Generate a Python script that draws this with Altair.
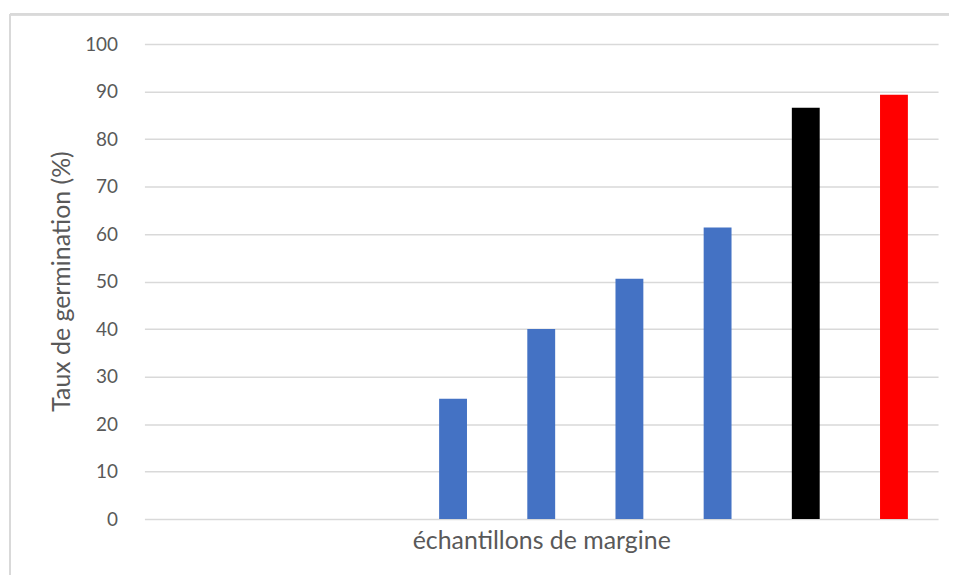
import altair as alt
import pandas as pd

categories = ["1", "2", "3", "4", "5", "6", "7", "8", "9"]
values = [None, None, None, 25.3, 40.0, 50.6, 61.4, 86.6, 89.3]
colors = ["#4472C4", "#4472C4", "#4472C4", "#4472C4", "#4472C4", "#4472C4", "#4472C4", "#000000", "#FF0000"]

df = pd.DataFrame({"cat": categories, "val": values, "col": colors})

FONT = "Lato"
GRAY = "#595959"

bars = alt.Chart(df).mark_bar(stroke=None).encode(
    x=alt.X("cat:N", sort=categories,
            scale=alt.Scale(paddingInner=0.684, paddingOuter=0.342),
            axis=alt.Axis(labels=False, ticks=False, domain=False,
                          title="échantillons de margine", titleFont=FONT,
                          titleFontSize=25, titleFontWeight="normal",
                          titleColor=GRAY, titlePadding=10)),
    y=alt.Y("val:Q", scale=alt.Scale(domain=[0, 100], nice=False),
            axis=alt.Axis(values=list(range(0, 101, 10)), ticks=False, domain=False,
                          grid=True, gridColor="#d9d9d9", gridWidth=1.5,
                          labelFont=FONT, labelFontSize=19, labelColor=GRAY,
                          labelPadding=27,
                          title="Taux de germination (%)", titleFont=FONT,
                          titleFontSize=25, titleFontWeight="normal", titleColor=GRAY,
                          titleX=-83, titleY=238, titleBaseline="middle",
                          titleAngle=270)),
    color=alt.Color("col:N", scale=None),
)

border_top = alt.Chart(df).mark_rule(color="#d9d9d9", strokeWidth=2).encode(
    x=alt.value(-135), x2=alt.value(830), y=alt.value(-30)
)
border_left = alt.Chart(df).mark_rule(color="#d9d9d9", strokeWidth=2).encode(
    x=alt.value(-135), y=alt.value(-30), y2=alt.value(600)
)

chart = alt.layer(border_top, border_left, bars).properties(
    width=797, height=477,
    autosize=alt.AutoSizeParams(type="none"),
    padding={"left": 137, "top": 35, "right": 11, "bottom": 55},
    background="white",
).configure_view(stroke=None)

chart.save("out.html", embed_options={"renderer": "svg", "actions": False})
